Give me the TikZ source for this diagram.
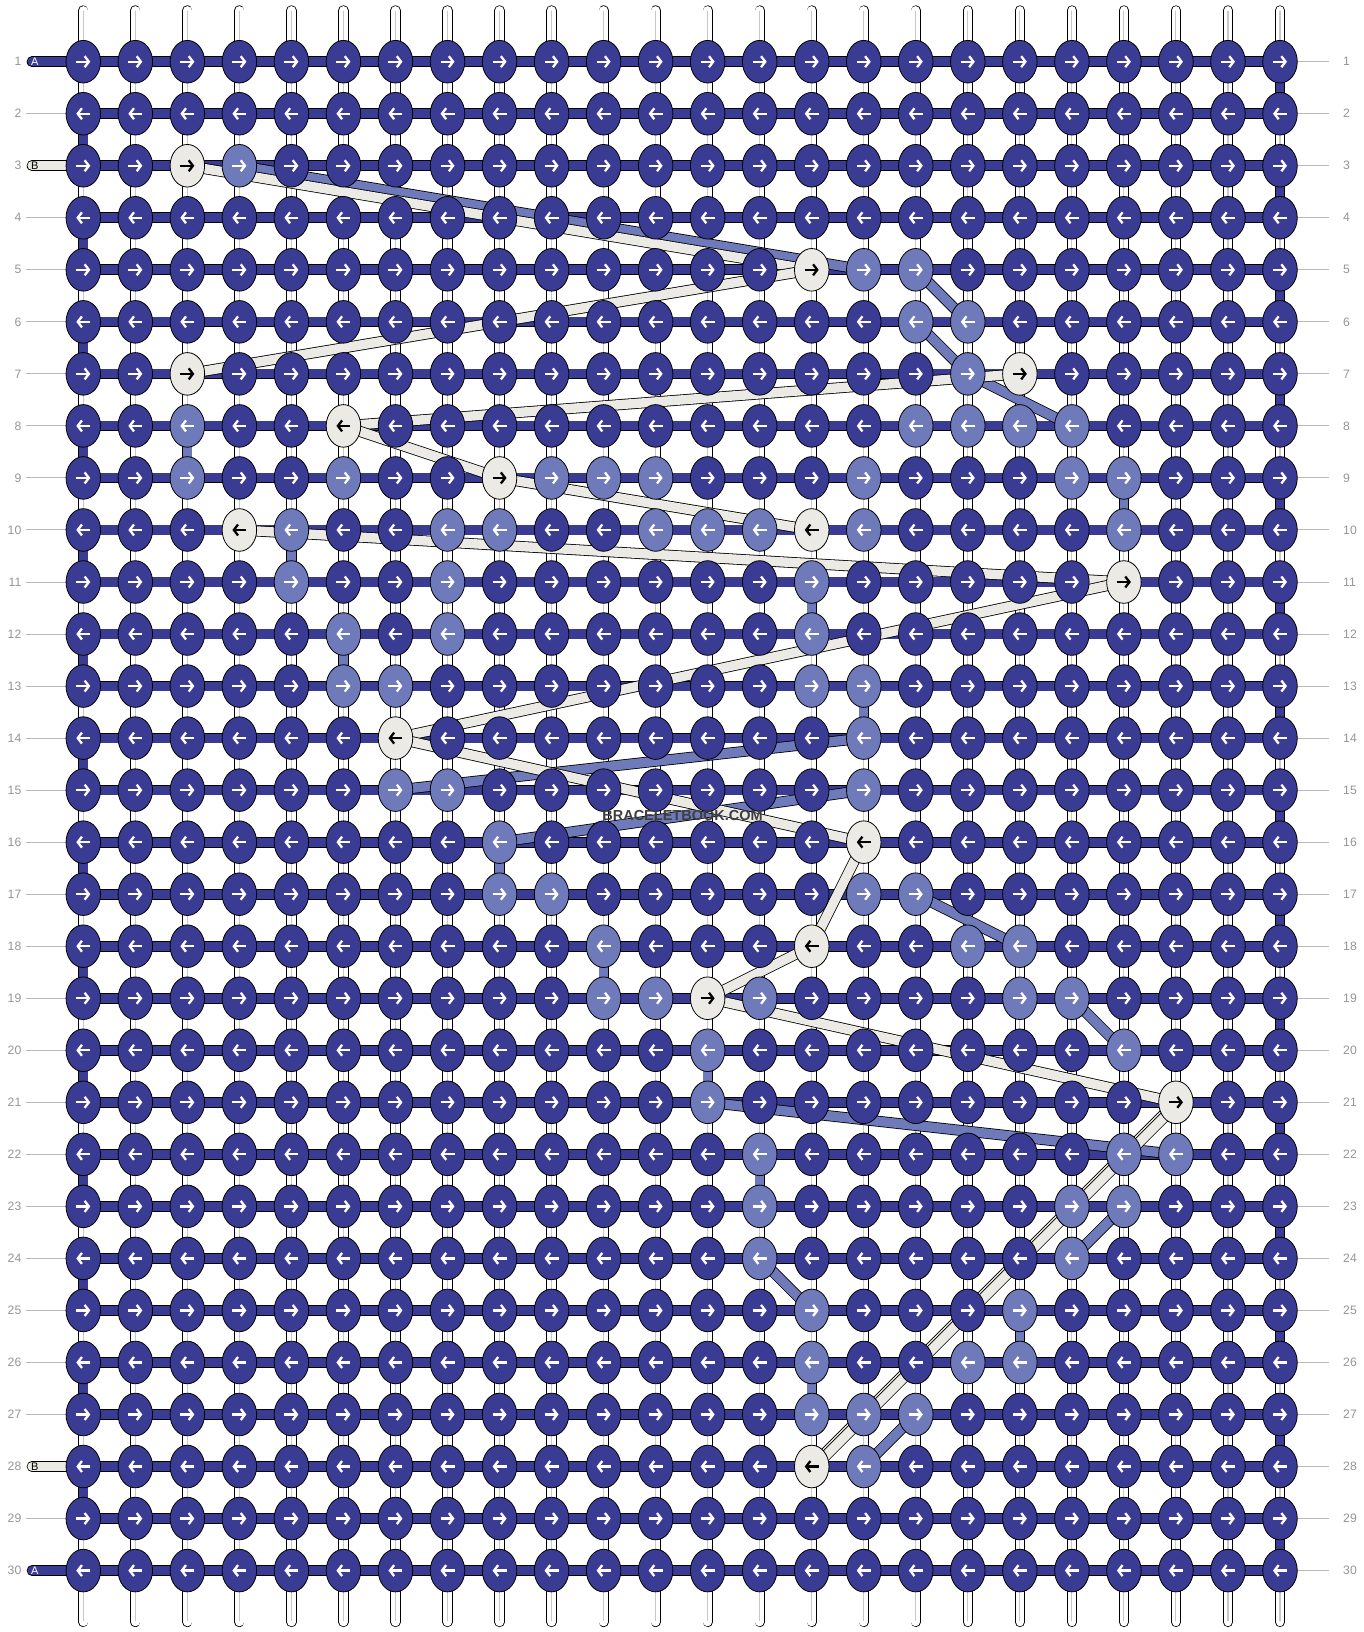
\documentclass[tikz,border=0pt]{standalone}
\usepackage{fontspec}
\setmainfont{Liberation Sans}
\usetikzlibrary{arrows.meta,shapes.geometric}
\definecolor{cD}{RGB}{58,60,148}
\definecolor{cL}{RGB}{110,122,185}
\definecolor{cW}{RGB}{235,234,228}
\definecolor{cLab}{RGB}{150,150,150}
\definecolor{cLine}{RGB}{185,185,185}
\definecolor{cMid}{RGB}{200,200,200}
\definecolor{cWm}{RGB}{62,62,62}
\begin{document}
\begin{tikzpicture}[x=1pt,y=1pt,
  vstring/.style={draw=black, line width=0.8pt, double=white, double distance=8.6pt, line cap=round},
  vmid/.style={draw=cMid, line width=1.1pt},
  vseg/.style={draw=black, line width=0.8pt, double=#1, double distance=8.6pt},
  hbar/.style={draw=black, line width=0.8pt, double=#1, double distance=9.1pt, line cap=round},
  band/.style={draw=black, line width=0.8pt, double=#1, double distance=9.4pt},
  knot/.style={ellipse, draw=black, line width=0.8pt, minimum width=34.5pt, minimum height=42.6pt, inner sep=0pt},
  karrow/.style={line width=2.3pt, -{Straight Barb[length=4.2pt,width=11pt]}},
  lab/.style={text=cLab, font=\fontsize{12.2}{13}\selectfont, inner sep=0pt},
  tabtxt/.style={font=\fontsize{11}{11}\selectfont, inner sep=0pt},
  gline/.style={draw=cLine, line width=1pt}
]
\fill[white] (0,0) rectangle (1364,-1632);
\path[use as bounding box] (0,0) rectangle (1364,-1632);

% grid coordinates
\foreach \r in {1,...,30}{
  \foreach \c in {1,...,24}{
    \coordinate (g-\r-\c) at ({83.3+52.03*(\c-1)},{-61.7-52.03*(\r-1)});
  }
  \coordinate (tl-\r) at (32,{-61.7-52.03*(\r-1)});
  \coordinate (ll-\r) at (26,{-61.7-52.03*(\r-1)});
  \coordinate (rl-\r) at (1329,{-61.7-52.03*(\r-1)});
}

% colour table: 1 = light purple, 2 = white
\foreach \r/\c in {3/4, 5/16, 5/17, 6/17, 6/18, 7/18, 8/3, 8/17, 8/18, 8/19, 8/20,
  9/3, 9/6, 9/10, 9/11, 9/12, 9/16, 9/20, 9/21,
  10/5, 10/8, 10/9, 10/12, 10/13, 10/14, 10/16, 10/21,
  11/5, 11/8, 11/15, 12/6, 12/8, 12/15, 13/6, 13/7, 13/15, 13/16,
  14/16, 15/7, 15/8, 15/16, 16/9, 17/9, 17/10, 17/16, 17/17,
  18/11, 18/18, 18/19, 19/11, 19/12, 19/14, 19/19, 19/20,
  20/13, 20/21, 21/13, 22/14, 22/21, 22/22, 23/14, 23/20, 23/21,
  24/14, 24/20, 25/15, 25/19, 26/15, 26/18, 26/19, 27/15, 27/16, 27/17, 28/16}
  {\expandafter\gdef\csname kc-\r-\c\endcsname{1}}
\foreach \r/\c in {3/3, 5/15, 7/3, 7/19, 8/6, 9/9, 10/4, 10/15, 11/21, 14/7, 16/16, 18/15, 19/13, 21/22, 28/15}
  {\expandafter\gdef\csname kc-\r-\c\endcsname{2}}

% vertical strings
\foreach \c in {1,...,24}{
  \coordinate (st-\c) at ({83.3+52.03*(\c-1)},-10.4);
  \coordinate (sb-\c) at ({83.3+52.03*(\c-1)},-1622);
  \draw[vstring] (st-\c) -- (sb-\c);
  \draw[vmid] ([yshift=-1pt]st-\c) -- ([yshift=1pt]sb-\c);
}

% coloured vertical segments
\foreach \r/\c [evaluate=\r as \rn using int(\r+1)] in {8/3, 9/21, 10/5, 11/15, 12/6, 13/16, 16/9, 18/11, 20/13, 22/14, 25/19, 26/15}
  {\draw[vseg=cL] (g-\r-\c) -- (g-\rn-\c);}
\foreach \r [evaluate=\r as \rn using int(\r+1)] in {2,4,...,28}
  {\draw[vseg=cD] (g-\r-1) -- (g-\rn-1);}
\foreach \r [evaluate=\r as \rn using int(\r+1)] in {1,3,...,29}
  {\draw[vseg=cD] (g-\r-24) -- (g-\rn-24);}

% row bars, tabs, guide lines
\foreach \r in {1,...,30}{
  \draw[gline] (g-\r-24) -- (rl-\r);
  \node[lab, anchor=east] (labL-\r) at ([xshift=-4.5pt]ll-\r) {\r};
  \node[lab, anchor=west] (labR-\r) at ([xshift=14pt]rl-\r) {\r};
}
\foreach \r in {2,4,5,6,7,8,9,10,11,12,13,14,15,16,17,18,19,20,21,22,23,24,25,26,27,29}
  {\draw[gline] (ll-\r) -- (g-\r-1);}
\foreach \r in {1,30}{
  \draw[hbar=cD] (tl-\r) -- (g-\r-1);
}
\foreach \r in {3,28}{
  \draw[hbar=cW] (tl-\r) -- (g-\r-1);
}
\foreach \r in {1,...,30}{
  \draw[hbar=cD] (g-\r-1) -- (g-\r-24);
}
\node[tabtxt, text=white] (tA-1) at ([xshift=2.7pt]tl-1) {A};
\node[tabtxt, text=white] (tA-30) at ([xshift=2.7pt]tl-30) {A};
\node[tabtxt, text=black] (tB-3) at ([xshift=2.7pt]tl-3) {B};
\node[tabtxt, text=black] (tB-28) at ([xshift=2.7pt]tl-28) {B};

% light purple string path
\foreach \a/\b in {3-4/5-16, 5-17/6-18, 6-17/7-18, 7-18/8-20, 14-16/15-7, 15-16/16-9,
  17-17/18-19, 19-20/20-21, 21-13/22-22, 23-21/24-20, 24-14/25-15, 27-17/28-16}
  {\draw[band=cL] (g-\a) -- (g-\b);}
% white string path
\foreach \a/\b in {3-3/5-15, 5-15/7-3, 7-19/8-6, 8-6/9-9, 9-9/10-15, 10-4/11-21,
  11-21/14-7, 14-7/16-16, 16-16/18-15, 18-15/19-13, 19-13/21-22, 21-22/28-15}
  {\draw[band=cW] (g-\a) -- (g-\b);}
\draw[band=cW] ([xshift=1.6pt,yshift=-1.6pt]g-21-22) -- ([xshift=1.6pt,yshift=-1.6pt]g-28-15);

% knots
\foreach \r in {1,...,30}{
  \foreach \c in {1,...,24}{
    \def\fillc{cD}\def\arrc{white}%
    \ifcsname kc-\r-\c\endcsname
      \ifnum\csname kc-\r-\c\endcsname=1 \def\fillc{cL}\else\def\fillc{cW}\def\arrc{black}\fi
    \fi
    \node[knot, fill=\fillc] (k-\r-\c) at (g-\r-\c) {};
    \ifodd\r\relax
      \draw[karrow, draw=\arrc] ([xshift=-7pt]k-\r-\c.center) -- ([xshift=7pt]k-\r-\c.center);
    \else
      \draw[karrow, draw=\arrc] ([xshift=7pt]k-\r-\c.center) -- ([xshift=-7pt]k-\r-\c.center);
    \fi
  }
}

% watermark
\node[text=cWm, font=\bfseries\fontsize{14.5}{14.5}\selectfont, inner sep=0pt] (wm) at (682.5,-815) {BRACELETBOOK.COM};
\end{tikzpicture}
\end{document}
